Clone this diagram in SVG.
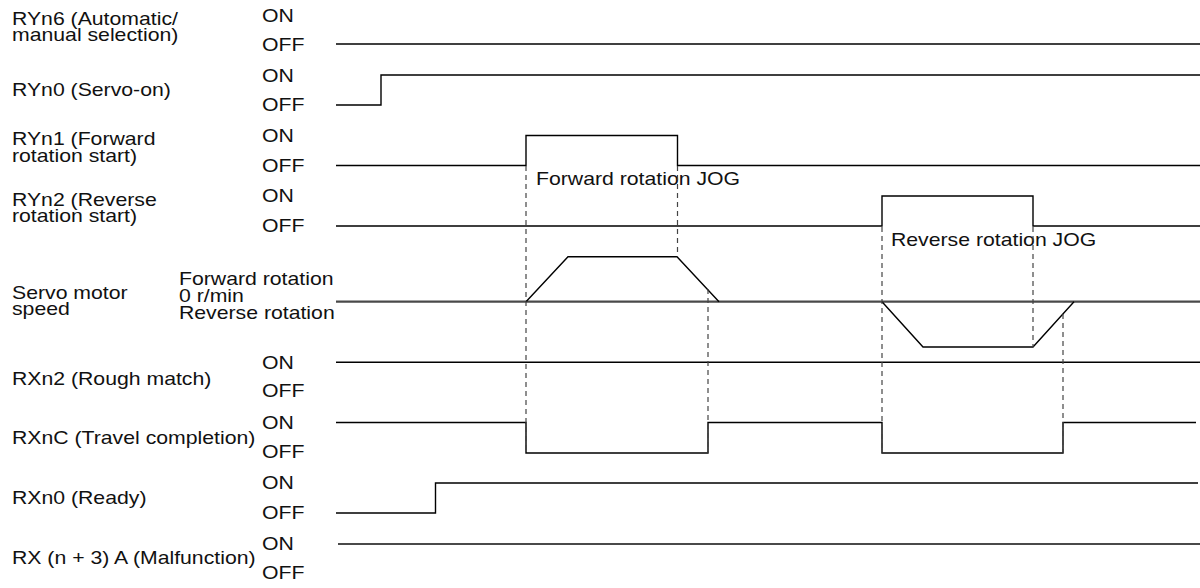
<svg xmlns="http://www.w3.org/2000/svg" width="1200" height="588" viewBox="0 0 1200 588">
<style>
text{font-family:"Liberation Sans",Arial,sans-serif;font-size:18px;fill:#111}
.sig{fill:none;stroke:#000;stroke-width:1.4}
.ref{fill:none;stroke:#4a4a4a;stroke-width:2.2}
.dash{fill:none;stroke:#444;stroke-width:1.2;stroke-dasharray:5 4}
</style>
<rect width="1200" height="588" fill="#fff"/>
<g id="ryn6">
<g transform="scale(1.18 1)">
<text x="10.17" y="25">RYn6 (Automatic/</text>
<text x="10.17" y="41.5">manual selection)</text>
<text x="222.03" y="22">ON</text>
<text x="222.03" y="51">OFF</text>
</g>
<path class="sig" d="M336 44H1200"/>
</g>
<g id="ryn0">
<g transform="scale(1.18 1)">
<text x="10.17" y="96.5">RYn0 (Servo-on)</text>
<text x="222.03" y="82">ON</text>
<text x="222.03" y="111.5">OFF</text>
</g>
<path class="sig" d="M336 105H381V75H1200"/>
</g>
<g id="ryn1">
<g transform="scale(1.18 1)">
<text x="10.17" y="145.5">RYn1 (Forward</text>
<text x="10.17" y="162">rotation start)</text>
<text x="222.03" y="142">ON</text>
<text x="222.03" y="172">OFF</text>
<text x="454.24" y="185">Forward rotation JOG</text>
</g>
<path class="sig" d="M336 165.5H526V135.5H677.5V165.5H1200"/>
</g>
<g id="ryn2">
<g transform="scale(1.18 1)">
<text x="10.17" y="206">RYn2 (Reverse</text>
<text x="10.17" y="222.5">rotation start)</text>
<text x="222.03" y="202.5">ON</text>
<text x="222.03" y="232.5">OFF</text>
<text x="755.08" y="246">Reverse rotation JOG</text>
</g>
<path class="sig" d="M336 226H882V196H1033V226H1200"/>
</g>
<g id="speed">
<g transform="scale(1.18 1)">
<text x="10.17" y="299">Servo motor</text>
<text x="10.17" y="315.5">speed</text>
<text x="151.69" y="285">Forward rotation</text>
<text x="151.69" y="302">0 r/min</text>
<text x="151.69" y="319.5">Reverse rotation</text>
</g>
<path class="ref" d="M336 301.7H1200"/>
<path class="sig" d="M526 301.7L568 256.7H677L719 301.7"/>
<path class="sig" d="M882 301.7L923 347H1033L1074 301.7"/>
</g>
<g id="rxn2">
<g transform="scale(1.18 1)">
<text x="10.17" y="385.5">RXn2 (Rough match)</text>
<text x="222.03" y="369">ON</text>
<text x="222.03" y="397.5">OFF</text>
</g>
<path class="sig" d="M336 362.3H1200"/>
</g>
<g id="rxnc">
<g transform="scale(1.18 1)">
<text x="10.17" y="444.5">RXnC (Travel completion)</text>
<text x="222.03" y="429">ON</text>
<text x="222.03" y="458.5">OFF</text>
</g>
<path class="sig" d="M336 422.5H526V453H708V422.5H882V453H1063V422.5H1196"/>
</g>
<g id="rxn0">
<g transform="scale(1.18 1)">
<text x="10.17" y="504.5">RXn0 (Ready)</text>
<text x="222.03" y="489.5">ON</text>
<text x="222.03" y="519.5">OFF</text>
</g>
<path class="sig" d="M336 513H435.5V483H1198"/>
</g>
<g id="rxn3a">
<g transform="scale(1.18 1)">
<text x="10.17" y="564.5">RX (n + 3) A (Malfunction)</text>
<text x="222.03" y="550.5">ON</text>
<text x="222.03" y="579.5">OFF</text>
</g>
<path class="ref" d="M338 544H1200"/>
</g>
<g id="connectors">
<path class="dash" d="M526 166V453"/>
<path class="dash" d="M677.5 166V256.7"/>
<path class="dash" d="M708 289V453"/>
<path class="dash" d="M882 227V453"/>
<path class="dash" d="M1033 227V347"/>
<path class="dash" d="M1063 314V453"/>
</g>
</svg>
